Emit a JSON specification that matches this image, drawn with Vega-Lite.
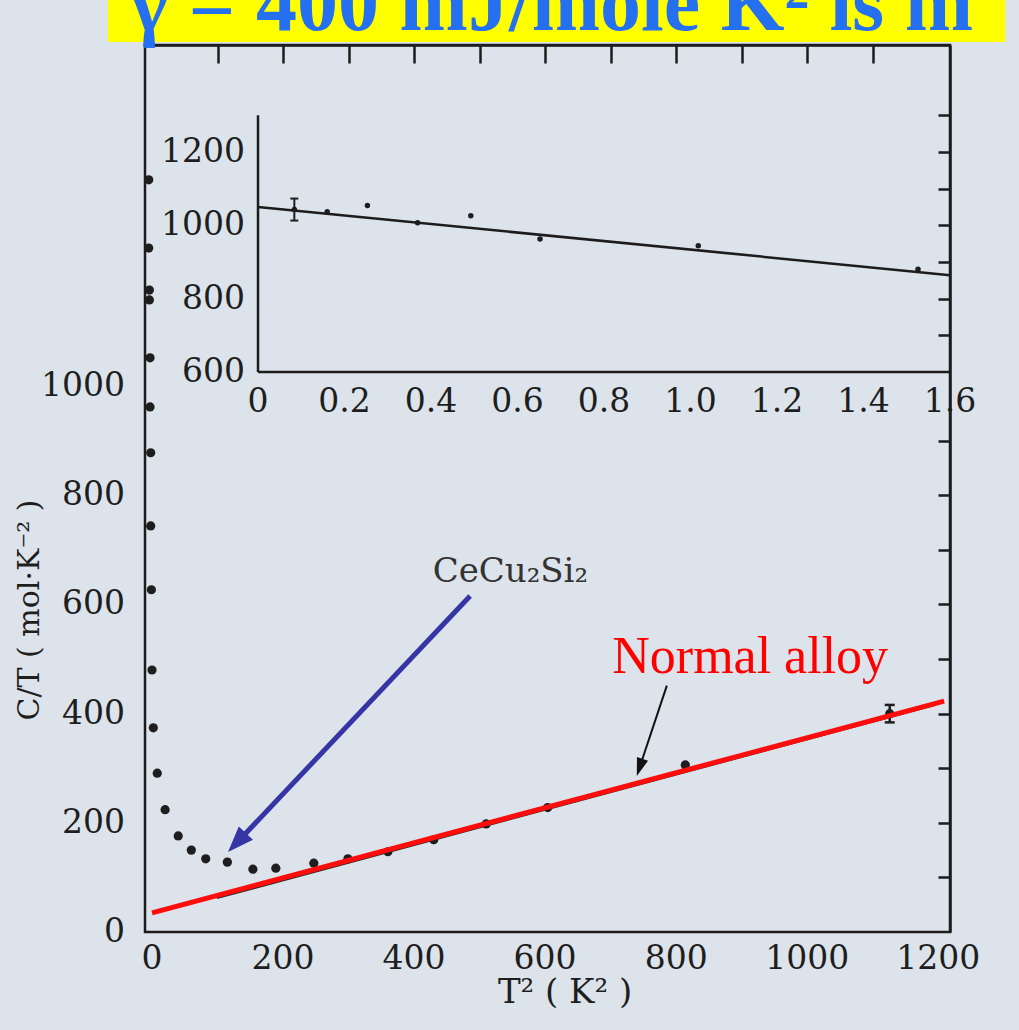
{
  "$schema": "https://vega.github.io/schema/vega-lite/v6.json",
  "width": 805,
  "height": 887,
  "autosize": {"type": "none"},
  "padding": {"left": 145, "top": 45, "right": 69, "bottom": 98},
  "background": "#dde3ea",
  "config": {
    "view": {"stroke": "#1c1c1c", "strokeWidth": 2.5},
    "axis": {"grid": false, "domainColor": "#1c1c1c", "domainWidth": 2.5, "tickColor": "#1c1c1c", "tickWidth": 2.5}
  },
  "datasets": {
    "cecu": [
      {"t2": -5, "ct": 1378}, {"t2": -5, "ct": 1253}, {"t2": -4, "ct": 1176}, {"t2": -4, "ct": 1158},
      {"t2": -3, "ct": 1052}, {"t2": -3, "ct": 962}, {"t2": -2, "ct": 878}, {"t2": -2, "ct": 744},
      {"t2": -1, "ct": 627}, {"t2": 0, "ct": 480}, {"t2": 2, "ct": 374}, {"t2": 8, "ct": 291},
      {"t2": 20, "ct": 224}, {"t2": 40, "ct": 176}, {"t2": 60, "ct": 150}, {"t2": 82, "ct": 134},
      {"t2": 115, "ct": 128}, {"t2": 154, "ct": 115}, {"t2": 189, "ct": 117}, {"t2": 247, "ct": 126},
      {"t2": 299, "ct": 134}, {"t2": 360, "ct": 147}, {"t2": 430, "ct": 169}, {"t2": 510, "ct": 198},
      {"t2": 604, "ct": 228}, {"t2": 814, "ct": 306}, {"t2": 1126, "ct": 400}
    ],
    "errmain": [{"t2": 1126, "lo": 384, "hi": 416}],
    "fits": [
      {"series": "normal", "t2": 0, "ct": 35}, {"series": "normal", "t2": 1209, "ct": 423},
      {"series": "fit", "t2": 99, "ct": 62}, {"series": "fit", "t2": 1195, "ct": 416}
    ],
    "arrows": [
      {"name": "CeCu", "x0": 485.5, "y0": 615.6, "x1": 137, "y1": 173, "tx": 116, "ty": 146.6},
      {"name": "Normal", "x0": 785.8, "y0": 451.3, "x1": 747.6, "y1": 313.7, "tx": 740, "ty": 285.8}
    ],
    "notes": [
      {"name": "CeCu", "note": "CeCu₂Si₂", "t2": 547, "ct": 660},
      {"name": "Normal", "note": "Normal alloy", "t2": 913, "ct": 504}
    ],
    "titles": [
      {"name": "x", "note": "T² ( K² )"},
      {"name": "y", "note": "C/T ( mol·K⁻² )"}
    ],
    "banner": [{"note": "γ = 400 mJ/mole K² is m"}],
    "xlabels": [{"v": 0}, {"v": 200}, {"v": 400}, {"v": 600}, {"v": 800}, {"v": 1000}, {"v": 1200}],
    "ylabels": [{"v": 0}, {"v": 200}, {"v": 400}, {"v": 600}, {"v": 800}, {"v": 1000}],
    "ixlabels": [
      {"iv": 0, "lab": "0"}, {"iv": 0.2, "lab": "0.2"}, {"iv": 0.4, "lab": "0.4"}, {"iv": 0.6, "lab": "0.6"},
      {"iv": 0.8, "lab": "0.8"}, {"iv": 1.0, "lab": "1.0"}, {"iv": 1.2, "lab": "1.2"}, {"iv": 1.4, "lab": "1.4"}, {"iv": 1.6, "lab": "1.6"}
    ],
    "iylabels": [{"iv": 600}, {"iv": 800}, {"iv": 1000}, {"iv": 1200}],
    "inset": [
      {"it": 0.084, "ic": 1043}, {"it": 0.16, "ic": 1037}, {"it": 0.253, "ic": 1054},
      {"it": 0.369, "ic": 1007}, {"it": 0.492, "ic": 1026}, {"it": 0.652, "ic": 963},
      {"it": 1.018, "ic": 944}, {"it": 1.526, "ic": 880}
    ],
    "insetErr": [{"it": 0.084, "lo": 1013, "hi": 1073}],
    "insetFit": [{"it": 0, "ic": 1050}, {"it": 1.6, "ic": 864}]
  },
  "layer": [
    {
      "layer": [
        {
          "data": {"name": "cecu"},
          "mark": {"type": "point", "filled": true, "size": 85, "color": "#1e1e1e", "opacity": 1},
          "encoding": {
            "x": {"field": "t2", "type": "quantitative", "scale": {"domain": [-10.7, 1218], "nice": false, "zero": false},
              "axis": {"orient": "bottom", "values": [100, 200, 300, 400, 500, 600, 700, 800, 900, 1000, 1100, 1200],
                "tickSize": -14, "labels": false, "title": null}},
            "y": {"field": "ct", "type": "quantitative", "scale": {"domain": [0, 1625], "nice": false, "zero": false},
              "axis": {"orient": "left", "values": [100, 200, 300, 400, 500, 600, 700, 800, 900, 1000, 1100, 1200, 1300, 1400, 1500, 1600],
                "tickSize": -14, "labels": false, "title": null}}
          }
        },
        {
          "data": {"name": "xlabels"},
          "mark": {"type": "text", "font": "DejaVu Serif", "fontSize": 33, "color": "#1e1e1e", "align": "center", "baseline": "top", "dy": 11},
          "encoding": {
            "x": {"field": "v", "type": "quantitative", "axis": null},
            "y": {"datum": 0, "type": "quantitative", "axis": null},
            "text": {"field": "v", "type": "quantitative", "format": "d"}
          }
        },
        {
          "data": {"name": "ylabels"},
          "mark": {"type": "text", "font": "DejaVu Serif", "fontSize": 33, "color": "#1e1e1e", "align": "right", "baseline": "middle", "dx": -20},
          "encoding": {
            "x": {"datum": -10.7, "type": "quantitative", "axis": null},
            "y": {"field": "v", "type": "quantitative", "axis": null},
            "text": {"field": "v", "type": "quantitative", "format": "d"}
          }
        },
        {
          "data": {"name": "titles"},
          "transform": [{"filter": "datum.name === 'x'"}],
          "mark": {"type": "text", "font": "DejaVu Serif", "fontSize": 34, "color": "#1e1e1e", "align": "center", "baseline": "alphabetic"},
          "encoding": {
            "x": {"datum": 630.4, "type": "quantitative", "axis": null},
            "y": {"datum": -130.1, "type": "quantitative", "axis": null},
            "text": {"field": "note"}
          }
        },
        {
          "data": {"name": "titles"},
          "transform": [{"filter": "datum.name === 'y'"}],
          "mark": {"type": "text", "font": "DejaVu Serif", "fontSize": 30, "color": "#1e1e1e", "align": "center", "baseline": "middle", "angle": 270},
          "encoding": {
            "x": {"datum": -186.2, "type": "quantitative", "axis": null},
            "y": {"datum": 589.9, "type": "quantitative", "axis": null},
            "text": {"field": "note"}
          }
        },
        {
          "data": {"name": "banner"},
          "mark": {"type": "rect", "color": "#ffff00"},
          "encoding": {
            "x": {"datum": -67.2, "type": "quantitative", "axis": null},
            "x2": {"datum": 1302.3},
            "y": {"datum": 1707.4, "type": "quantitative", "axis": null},
            "y2": {"datum": 1630.5}
          }
        },
        {
          "data": {"name": "banner"},
          "mark": {"type": "text", "font": "Liberation Serif", "fontWeight": "bold", "fontSize": 82, "color": "#2470f0", "align": "left", "baseline": "alphabetic"},
          "encoding": {
            "x": {"datum": -33.6, "type": "quantitative", "axis": null},
            "y": {"datum": 1652.5, "type": "quantitative", "axis": null},
            "text": {"field": "note"}
          }
        },
        {
          "data": {"name": "fits"},
          "transform": [{"filter": "datum.series === 'fit'"}],
          "mark": {"type": "line", "color": "#2a2a2a", "strokeWidth": 2},
          "encoding": {
            "x": {"field": "t2", "type": "quantitative", "axis": null},
            "y": {"field": "ct", "type": "quantitative", "axis": null}
          }
        },
        {
          "data": {"name": "errmain"},
          "mark": {"type": "rule", "color": "#1e1e1e", "strokeWidth": 2.5},
          "encoding": {
            "x": {"field": "t2", "type": "quantitative", "axis": null},
            "y": {"field": "lo", "type": "quantitative", "axis": null},
            "y2": {"field": "hi"}
          }
        },
        {
          "data": {"name": "errmain"},
          "mark": {"type": "point", "shape": "M-1,0L1,0", "filled": false, "size": 100, "color": "#1e1e1e", "strokeWidth": 2.5, "opacity": 1},
          "encoding": {
            "x": {"field": "t2", "type": "quantitative", "axis": null},
            "y": {"field": "lo", "type": "quantitative", "axis": null}
          }
        },
        {
          "data": {"name": "errmain"},
          "mark": {"type": "point", "shape": "M-1,0L1,0", "filled": false, "size": 100, "color": "#1e1e1e", "strokeWidth": 2.5, "opacity": 1},
          "encoding": {
            "x": {"field": "t2", "type": "quantitative", "axis": null},
            "y": {"field": "hi", "type": "quantitative", "axis": null}
          }
        },
        {
          "data": {"name": "fits"},
          "transform": [{"filter": "datum.series === 'normal'"}],
          "mark": {"type": "line", "color": "#ff0d0d", "strokeWidth": 5},
          "encoding": {
            "x": {"field": "t2", "type": "quantitative", "axis": null},
            "y": {"field": "ct", "type": "quantitative", "axis": null}
          }
        },
        {
          "data": {"name": "arrows"},
          "transform": [{"filter": "datum.name === 'CeCu'"}],
          "mark": {"type": "rule", "color": "#3535a5", "strokeWidth": 5},
          "encoding": {
            "x": {"field": "x0", "type": "quantitative", "axis": null},
            "y": {"field": "y0", "type": "quantitative", "axis": null},
            "x2": {"field": "x1"},
            "y2": {"field": "y1"}
          }
        },
        {
          "data": {"name": "arrows"},
          "transform": [{"filter": "datum.name === 'CeCu'"}],
          "mark": {"type": "point", "shape": "M0,0L-0.75,2L0.75,2Z", "filled": true, "size": 676, "angle": 223.4, "color": "#3535a5", "opacity": 1},
          "encoding": {
            "x": {"field": "tx", "type": "quantitative", "axis": null},
            "y": {"field": "ty", "type": "quantitative", "axis": null}
          }
        },
        {
          "data": {"name": "arrows"},
          "transform": [{"filter": "datum.name === 'Normal'"}],
          "mark": {"type": "rule", "color": "#111111", "strokeWidth": 2},
          "encoding": {
            "x": {"field": "x0", "type": "quantitative", "axis": null},
            "y": {"field": "y0", "type": "quantitative", "axis": null},
            "x2": {"field": "x1"},
            "y2": {"field": "y1"}
          }
        },
        {
          "data": {"name": "arrows"},
          "transform": [{"filter": "datum.name === 'Normal'"}],
          "mark": {"type": "point", "shape": "M0,0L-0.65,2L0.65,2Z", "filled": true, "size": 324, "angle": 198.4, "color": "#111111", "opacity": 1},
          "encoding": {
            "x": {"field": "tx", "type": "quantitative", "axis": null},
            "y": {"field": "ty", "type": "quantitative", "axis": null}
          }
        },
        {
          "data": {"name": "notes"},
          "transform": [{"filter": "datum.name === 'CeCu'"}],
          "mark": {"type": "text", "font": "DejaVu Serif", "fontSize": 34, "color": "#333333", "align": "center", "baseline": "middle"},
          "encoding": {
            "x": {"field": "t2", "type": "quantitative", "axis": null},
            "y": {"field": "ct", "type": "quantitative", "axis": null},
            "text": {"field": "note"}
          }
        },
        {
          "data": {"name": "notes"},
          "transform": [{"filter": "datum.name === 'Normal'"}],
          "mark": {"type": "text", "font": "Liberation Serif", "fontSize": 52, "color": "#ff0000", "align": "center", "baseline": "middle"},
          "encoding": {
            "x": {"field": "t2", "type": "quantitative", "axis": null},
            "y": {"field": "ct", "type": "quantitative", "axis": null},
            "text": {"field": "note"}
          }
        }
      ]
    },
    {
      "data": {"name": "cecu"},
      "mark": {"type": "point", "opacity": 0},
      "encoding": {
        "x": {"field": "t2", "type": "quantitative", "scale": {"domain": [-10.7, 1218], "nice": false, "zero": false},
          "axis": {"orient": "top", "values": [100, 200, 300, 400, 500, 600, 700, 800, 900, 1000, 1100], "labels": false, "tickSize": -18, "title": null}},
        "y": {"field": "ct", "type": "quantitative", "scale": {"domain": [0, 1625], "nice": false, "zero": false},
          "axis": {"orient": "right", "values": [100, 200, 300, 400, 500, 600, 700, 800, 900], "labels": false, "tickSize": -12, "title": null}}
      }
    },
    {
      "layer": [
        {
          "data": {"name": "inset"},
          "mark": {"type": "point", "filled": true, "size": 30, "color": "#1e1e1e", "opacity": 1},
          "encoding": {
            "x": {"field": "it", "type": "quantitative", "scale": {"domain": [-0.2613, 1.6], "nice": false, "zero": false},
              "axis": {"orient": "bottom", "domainOpacity": 0, "offset": -560, "values": [0.1, 0.2, 0.3, 0.4, 0.5, 0.6, 0.7, 0.8, 0.9, 1.0, 1.1, 1.2, 1.3, 1.4, 1.5],
                "tickSize": -12, "labels": false, "title": null}},
            "y": {"field": "ic", "type": "quantitative", "scale": {"domain": [-927.3, 1491.8], "nice": false, "zero": false}, "axis": null}
          }
        },
        {
          "data": {"name": "ixlabels"},
          "mark": {"type": "text", "font": "DejaVu Serif", "fontSize": 33, "color": "#1e1e1e", "align": "center", "baseline": "top", "dy": 14},
          "encoding": {
            "x": {"field": "iv", "type": "quantitative", "axis": null},
            "y": {"datum": 600, "type": "quantitative", "axis": null},
            "text": {"field": "lab"}
          }
        },
        {
          "data": {"name": "iylabels"},
          "mark": {"type": "text", "font": "DejaVu Serif", "fontSize": 33, "color": "#1e1e1e", "align": "right", "baseline": "middle", "dx": -13},
          "encoding": {
            "x": {"datum": 0, "type": "quantitative", "axis": null},
            "y": {"field": "iv", "type": "quantitative", "axis": null},
            "text": {"field": "iv", "type": "quantitative", "format": "d"}
          }
        },
        {
          "data": {"name": "insetFit"},
          "mark": {"type": "line", "color": "#1c1c1c", "strokeWidth": 2.5},
          "encoding": {
            "x": {"field": "it", "type": "quantitative", "axis": null},
            "y": {"field": "ic", "type": "quantitative", "axis": null}
          }
        },
        {
          "data": {"name": "insetErr"},
          "mark": {"type": "rule", "color": "#1e1e1e", "strokeWidth": 2},
          "encoding": {
            "x": {"field": "it", "type": "quantitative", "axis": null},
            "y": {"field": "lo", "type": "quantitative", "axis": null},
            "y2": {"field": "hi"}
          }
        },
        {
          "data": {"name": "insetErr"},
          "mark": {"type": "point", "shape": "M-1,0L1,0", "filled": false, "size": 64, "color": "#1e1e1e", "strokeWidth": 2, "opacity": 1},
          "encoding": {
            "x": {"field": "it", "type": "quantitative", "axis": null},
            "y": {"field": "lo", "type": "quantitative", "axis": null}
          }
        },
        {
          "data": {"name": "insetErr"},
          "mark": {"type": "point", "shape": "M-1,0L1,0", "filled": false, "size": 64, "color": "#1e1e1e", "strokeWidth": 2, "opacity": 1},
          "encoding": {
            "x": {"field": "it", "type": "quantitative", "axis": null},
            "y": {"field": "hi", "type": "quantitative", "axis": null}
          }
        },
        {
          "data": {"name": "insetErr"},
          "mark": {"type": "rule", "color": "#1c1c1c", "strokeWidth": 2.5},
          "encoding": {
            "x": {"datum": 0, "type": "quantitative", "axis": null},
            "y": {"datum": 600, "type": "quantitative", "axis": null},
            "y2": {"datum": 1300}
          }
        },
        {
          "data": {"name": "insetErr"},
          "mark": {"type": "rule", "color": "#1c1c1c", "strokeWidth": 2.5},
          "encoding": {
            "x": {"datum": 0, "type": "quantitative", "axis": null},
            "x2": {"datum": 1.6},
            "y": {"datum": 600, "type": "quantitative", "axis": null}
          }
        }
      ]
    },
    {
      "data": {"name": "inset"},
      "mark": {"type": "point", "opacity": 0},
      "encoding": {
        "x": {"field": "it", "type": "quantitative", "scale": {"domain": [-0.2613, 1.6], "nice": false, "zero": false}, "axis": null},
        "y": {"field": "ic", "type": "quantitative", "scale": {"domain": [-927.3, 1491.8], "nice": false, "zero": false},
          "axis": {"orient": "right", "domainOpacity": 0, "values": [700, 800, 900, 1000, 1100, 1200, 1300], "labels": false, "tickSize": -12, "title": null}}
      }
    }
  ],
  "resolve": {
    "scale": {"x": "independent", "y": "independent"},
    "axis": {"x": "independent", "y": "independent"}
  }
}
